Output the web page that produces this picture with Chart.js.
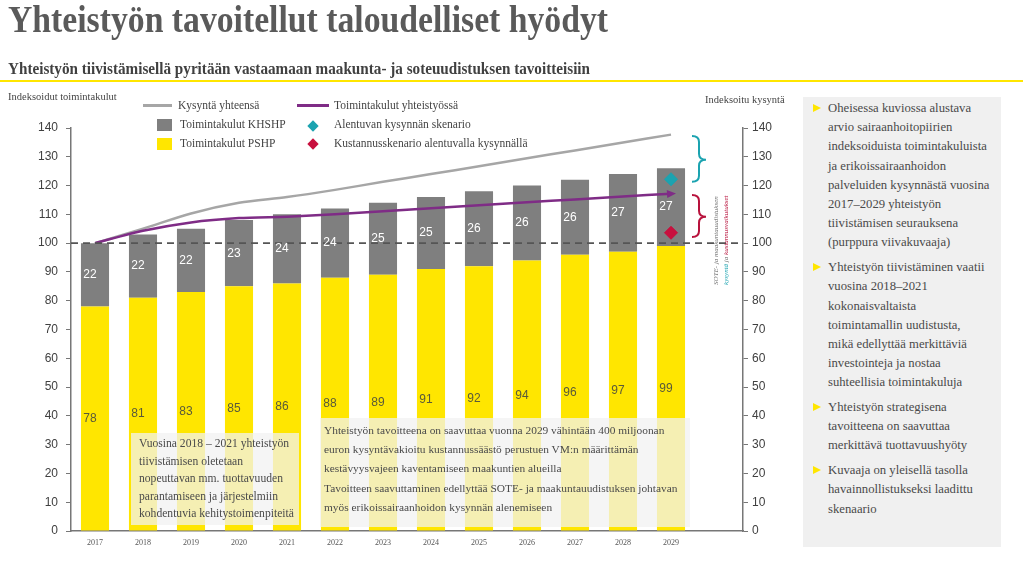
<!DOCTYPE html>
<html lang="fi">
<head>
<meta charset="utf-8">
<title>Yhteistyön tavoitellut taloudelliset hyödyt</title>
<script src="https://cdn.jsdelivr.net/npm/chart.js@4.4.0/dist/chart.umd.min.js"></script>
<style>
  html, body { margin: 0; padding: 0; background: #fff; }
  #page { position: relative; width: 1023px; height: 562px; overflow: hidden; font-family: 'Liberation Serif', serif; color: #4a4a4a; }
  #chart-wrap { position: absolute; left: 0; top: 0; width: 1023px; height: 562px; }
  .abs { position: absolute; white-space: nowrap; }
  .fit { transform-origin: 0 0; display: inline-block; }
  #title { left: 8px; top: 1px; font-size: 37px; line-height: 37px; font-weight: bold; color: #5a5a5a; }
  #subtitle { left: 8px; top: 60px; font-size: 17px; line-height: 17px; font-weight: bold; color: #404040; }
  #rule { position: absolute; left: 0; top: 80px; width: 1023px; height: 2px; background: #ffe600; }
  .axis-title { font-size: 10.5px; line-height: 12px; color: #444; }
  .lg-text { font-size: 11.5px; line-height: 14px; color: #444; }
  .lg-line { position: absolute; height: 3px; }
  .lg-box { position: absolute; width: 15px; height: 12px; }
  .lg-diamond { position: absolute; width: 8px; height: 8px; transform: rotate(45deg); }
  .note { position: absolute; background: rgba(242, 242, 242, 0.74); }
  .note div { white-space: nowrap; color: #4a4a4a; }
  #note1 { left: 131px; top: 433px; width: 168px; height: 92px; font-size: 11.6px; line-height: 17.5px; }
  #note1 .txt { position: absolute; left: 8px; top: 2px; }
  #note2 { left: 320px; top: 418px; width: 370px; height: 109px; font-size: 11.4px; line-height: 19.2px; }
  #note2 .txt { position: absolute; left: 4px; top: 3px; }
  #panel { position: absolute; left: 803px; top: 97px; width: 198px; height: 450px; background: #f0f0f0; }
  #panel ul { list-style: none; margin: 0; padding: 0; position: absolute; left: 0; top: 2px; }
  #panel li { position: relative; padding-left: 25px; font-size: 12.7px; line-height: 19.2px; color: #4a4a4a; white-space: nowrap; margin-bottom: 5.5px; }
  #panel li::before { content: ''; position: absolute; left: 10px; top: 5px; border-left: 8px solid #ffe600; border-top: 4.5px solid transparent; border-bottom: 4.5px solid transparent; }
</style>
</head>
<body>
<div id="page">
  <div id="chart-wrap"><canvas id="chart"></canvas></div>

  <div id="title" class="abs fit" data-w="600">Yhteistyön tavoitellut taloudelliset hyödyt</div>
  <div id="subtitle" class="abs fit" data-w="582">Yhteistyön tiivistämisellä pyritään vastaamaan maakunta- ja soteuudistuksen tavoitteisiin</div>
  <div id="rule"></div>

  <div class="abs axis-title" style="left:8px; top:91px;">Indeksoidut toimintakulut</div>
  <div class="abs axis-title" style="left:705px; top:94px;">Indeksoitu kysyntä</div>

  <!-- legend -->
  <div class="lg-line" style="left:143px; top:104px; width:29px; background:#a6a6a6;"></div>
  <div class="abs lg-text" style="left:178px; top:98px;">Kysyntä yhteensä</div>
  <div class="lg-box" style="left:157px; top:119px; background:#7f7f7f;"></div>
  <div class="abs lg-text" style="left:180px; top:117px;">Toimintakulut KHSHP</div>
  <div class="lg-box" style="left:157px; top:138px; background:#ffe600;"></div>
  <div class="abs lg-text" style="left:180px; top:136px;">Toimintakulut PSHP</div>
  <div class="lg-line" style="left:297px; top:104px; width:32px; background:#7f2c86;"></div>
  <div class="abs lg-text" style="left:334px; top:98px;">Toimintakulut yhteistyössä</div>
  <div class="lg-diamond" style="left:309px; top:122px; background:#1ba3b0;"></div>
  <div class="abs lg-text" style="left:334px; top:117px;">Alentuvan kysynnän skenario</div>
  <div class="lg-diamond" style="left:309px; top:140px; background:#c8103e;"></div>
  <div class="abs lg-text" style="left:334px; top:136px;">Kustannusskenario alentuvalla kysynnällä</div>

  <!-- notes over the bars -->
  <div id="note1" class="note"><div class="txt">
    <div>Vuosina 2018 – 2021 yhteistyön</div>
    <div>tiivistämisen oletetaan</div>
    <div>nopeuttavan mm. tuottavuuden</div>
    <div>parantamiseen ja järjestelmiin</div>
    <div>kohdentuvia kehitystoimenpiteitä</div>
  </div></div>
  <div id="note2" class="note"><div class="txt">
    <div>Yhteistyön tavoitteena on saavuttaa vuonna 2029 vähintään 400 miljoonan</div>
    <div>euron kysyntävakioitu kustannussäästö perustuen VM:n määrittämän</div>
    <div>kestävyysvajeen kaventamiseen maakuntien alueilla</div>
    <div>Tavoitteen saavuttaminen edellyttää SOTE- ja maakuntauudistuksen johtavan</div>
    <div>myös erikoissairaanhoidon kysynnän alenemiseen</div>
  </div></div>

  <div id="panel">
    <ul>
      <li>Oheisessa kuviossa alustava<br>arvio sairaanhoitopiirien<br>indeksoiduista toimintakuluista<br>ja erikoissairaanhoidon<br>palveluiden kysynnästä vuosina<br>2017–2029 yhteistyön<br>tiivistämisen seurauksena<br>(purppura viivakuvaaja)</li>
      <li>Yhteistyön tiivistäminen vaatii<br>vuosina 2018–2021<br>kokonaisvaltaista<br>toimintamallin uudistusta,<br>mikä edellyttää merkittäviä<br>investointeja ja nostaa<br>suhteellisia toimintakuluja</li>
      <li>Yhteistyön strategisena<br>tavoitteena on saavuttaa<br>merkittävä tuottavuushyöty</li>
      <li>Kuvaaja on yleisellä tasolla<br>havainnollistukseksi laadittu<br>skenaario</li>
    </ul>
  </div>
</div>

<script>
// data
const years = ['2017', '2018', '2019', '2020', '2021', '2022', '2023', '2024', '2025', '2026', '2027', '2028', '2029'];
const costPSHP = [78, 81, 83, 85, 86, 88, 89, 91, 92, 94, 96, 97, 99];
const costKHSHP = [22, 22, 22, 23, 24, 24, 25, 25, 26, 26, 26, 27, 27];
const demandTotal = [100, 105, 110.3, 114, 116, 118.5, 121.3, 124, 126.7, 129.5, 132.2, 135, 137.7];
const costCoop = [100, 104.3, 107.2, 108.7, 109.2, 110, 111.1, 112.1, 113.2, 114.2, 115.2, 116.2, 117.2];
const demandScenario2029 = 122.2;
const costScenario2029 = 103.6;
const baseIndex = 100;
const axisMin = 0;
const axisMax = 140;
const axisStep = 10;
// brace ranges on the demand axis: [top, tip, bottom]
const demandBrace = [137.2, 129, 121.3];
const costBrace = [116.7, 109.2, 102.1];

const YELLOW = '#ffe600';
const GREY_BAR = '#7f7f7f';
const TEAL = '#1ba3b0';
const RED = '#b8123c';

// one empty slot at the end, as in the original
const labels = years.concat(['']);

function lastOnly(value) {
  return years.map((y, i) => (i === years.length - 1 ? value : null));
}

function drawBrace(ctx, x, yTop, yTip, yBot, w, color) {
  const xm = x + w / 2;
  const r = Math.min(6, (yTip - yTop) / 3);
  ctx.save();
  ctx.strokeStyle = color;
  ctx.lineWidth = 2;
  ctx.beginPath();
  ctx.moveTo(x, yTop);
  ctx.quadraticCurveTo(xm, yTop, xm, yTop + r);
  ctx.lineTo(xm, yTip - r);
  ctx.quadraticCurveTo(xm, yTip, x + w, yTip);
  ctx.quadraticCurveTo(xm, yTip, xm, yTip + r);
  ctx.lineTo(xm, yBot - r);
  ctx.quadraticCurveTo(xm, yBot, x, yBot);
  ctx.stroke();
  ctx.restore();
}

function drawBaseLine(chart) {
  const { ctx, chartArea } = chart;
  const yb = chart.scales.y.getPixelForValue(baseIndex);
  ctx.save();
  ctx.strokeStyle = '#555';
  ctx.lineWidth = 1.6;
  ctx.setLineDash([7, 5]);
  ctx.beginPath();
  ctx.moveTo(chartArea.left, yb);
  ctx.lineTo(chartArea.right, yb);
  ctx.stroke();
  ctx.restore();
}

// draws text pieces one after another along the current x direction
function drawPieces(ctx, pieces, x, y) {
  pieces.forEach(([txt, color]) => {
    ctx.fillStyle = color;
    ctx.fillText(txt, x, y);
    x += ctx.measureText(txt).width;
  });
}

const extrasPlugin = {
  id: 'extras',
  afterDatasetsDraw(chart) {
    const { ctx, chartArea } = chart;
    const y2 = chart.scales.y2;

    drawBaseLine(chart);

    // values inside the bar segments
    ctx.save();
    ctx.font = '12px "Liberation Sans", Arial, sans-serif';
    ctx.textAlign = 'center';
    ctx.textBaseline = 'middle';
    [0, 1].forEach(di => {
      const meta = chart.getDatasetMeta(di);
      const values = chart.data.datasets[di].data;
      ctx.fillStyle = di === 0 ? '#5a5a3a' : '#ffffff';
      meta.data.forEach((bar, i) => {
        if (values[i] == null) return;
        ctx.fillText(String(values[i]), bar.x - 5, (bar.y + bar.base) / 2);
      });
    });
    ctx.restore();

    // arrow head on the cooperation cost line
    const lineMeta = chart.getDatasetMeta(3);
    const p1 = lineMeta.data[years.length - 1];
    const p0 = lineMeta.data[years.length - 2];
    const ang = Math.atan2(p1.y - p0.y, p1.x - p0.x);
    ctx.save();
    ctx.translate(p1.x + 3, p1.y);
    ctx.rotate(ang);
    ctx.fillStyle = '#7f2c86';
    ctx.beginPath();
    ctx.moveTo(2, 0);
    ctx.lineTo(-7, -4);
    ctx.lineTo(-7, 4);
    ctx.closePath();
    ctx.fill();
    ctx.restore();

    // braces next to the last bar
    const lastBar = chart.getDatasetMeta(1).data[years.length - 1];
    const bx = lastBar.x + 21;
    drawBrace(ctx, bx, y2.getPixelForValue(demandBrace[0]), y2.getPixelForValue(demandBrace[1]), y2.getPixelForValue(demandBrace[2]), 14, TEAL);
    drawBrace(ctx, bx, y2.getPixelForValue(costBrace[0]), y2.getPixelForValue(costBrace[1]), y2.getPixelForValue(costBrace[2]), 14, RED);

    // tiny rotated side notes
    ctx.save();
    ctx.font = 'italic 7px "Liberation Serif", serif';
    ctx.textBaseline = 'middle';
    ctx.translate(chartArea.right - 27, y2.getPixelForValue(85.5));
    ctx.rotate(-Math.PI / 2);
    drawPieces(ctx, [['SOTE- ja maakuntauudistuksen', '#777']], 0, 0);
    drawPieces(ctx, [['kysyntä', TEAL], [' ja ', '#777'], ['kustannusvaikutukset', RED]], 0, 10);
    ctx.restore();
  }
};

function renderChart() {
  const ctx = document.getElementById('chart');
  new Chart(ctx, {
    data: {
      labels: labels,
      datasets: [
        {
          type: 'bar',
          label: 'Toimintakulut PSHP',
          data: costPSHP,
          backgroundColor: YELLOW,
          stack: 'costs',
          yAxisID: 'y',
          barPercentage: 0.585,
          categoryPercentage: 1,
          order: 3,
        },
        {
          type: 'bar',
          label: 'Toimintakulut KHSHP',
          data: costKHSHP,
          backgroundColor: GREY_BAR,
          stack: 'costs',
          yAxisID: 'y',
          barPercentage: 0.585,
          categoryPercentage: 1,
          order: 3,
        },
        {
          type: 'line',
          label: 'Kysyntä yhteensä',
          data: demandTotal,
          borderColor: '#a6a6a6',
          borderWidth: 2.5,
          pointRadius: 0,
          tension: 0.3,
          yAxisID: 'y2',
          order: 2,
        },
        {
          type: 'line',
          label: 'Toimintakulut yhteistyössä',
          data: costCoop,
          borderColor: '#7f2c86',
          borderWidth: 2.5,
          pointRadius: 0,
          tension: 0.25,
          yAxisID: 'y2',
          order: 1,
        },
        {
          type: 'line',
          label: 'Alentuvan kysynnän skenario',
          data: lastOnly(demandScenario2029),
          showLine: false,
          pointStyle: 'rectRot',
          pointRadius: 6.5,
          backgroundColor: TEAL,
          borderColor: TEAL,
          yAxisID: 'y2',
          order: 0,
        },
        {
          type: 'line',
          label: 'Kustannusskenario alentuvalla kysynnällä',
          data: lastOnly(costScenario2029),
          showLine: false,
          pointStyle: 'rectRot',
          pointRadius: 6.5,
          backgroundColor: '#c8103e',
          borderColor: '#c8103e',
          yAxisID: 'y2',
          order: 0,
        },
      ],
    },
    options: {
      responsive: true,
      maintainAspectRatio: false,
      animation: false,
      layout: { padding: { top: 128, left: 0, right: 0, bottom: 0 } },
      plugins: { legend: { display: false }, tooltip: { enabled: false } },
      scales: {
        x: {
          stacked: true,
          offset: true,
          grid: { display: true, drawOnChartArea: false, drawTicks: false },
          border: { display: true, color: '#777', width: 1.5 },
          ticks: { color: '#555', font: { family: 'Liberation Serif', size: 8 }, padding: 7, maxRotation: 0, autoSkip: false },
          afterFit: scale => { scale.height = 31; },
        },
        y: {
          stacked: true,
          position: 'left',
          min: axisMin,
          max: axisMax,
          ticks: { stepSize: axisStep, color: '#404040', font: { family: 'Liberation Sans', size: 12 }, padding: 8 },
          grid: { drawOnChartArea: false, drawTicks: true, tickLength: 5, color: '#777' },
          border: { display: true, color: '#777', width: 1.5 },
          afterFit: scale => { scale.width = 71; },
        },
        y2: {
          position: 'right',
          min: axisMin,
          max: axisMax,
          ticks: { stepSize: axisStep, color: '#404040', font: { family: 'Liberation Sans', size: 12 }, padding: 4 },
          grid: { drawOnChartArea: false, drawTicks: true, tickLength: 5, color: '#777' },
          border: { display: true, color: '#777', width: 1.5 },
          afterFit: scale => { scale.width = 280; },
        },
      },
    },
    plugins: [extrasPlugin],
  });
}

function fitWidths() {
  document.querySelectorAll('.fit').forEach(el => {
    const target = parseFloat(el.dataset.w);
    const w = el.getBoundingClientRect().width;
    if (w > 0) el.style.transform = 'scaleX(' + (target / w) + ')';
  });
}

fitWidths();
renderChart();
</script>
</body>
</html>
